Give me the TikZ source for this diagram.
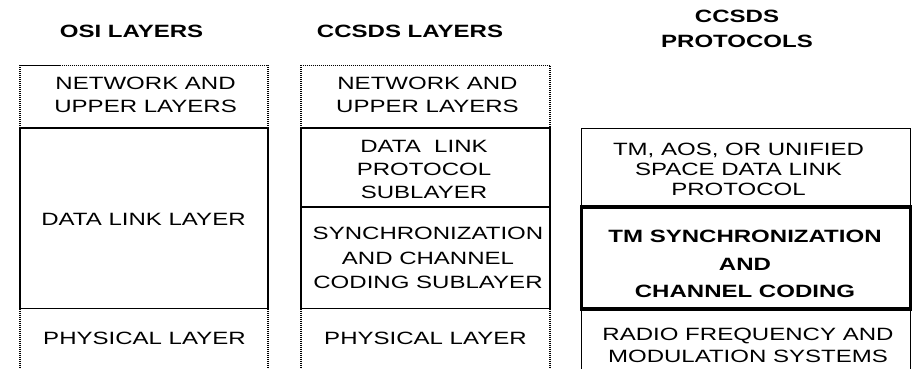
\documentclass[tikz,border=0pt]{standalone}
\usepackage{fontspec}
\setmainfont{Liberation Sans}[FakeStretch=1.35]
\begin{document}
\begin{tikzpicture}[x=1pt,y=-1pt,
  solidline/.style={draw=black,line width=1.6pt},
  thickline/.style={draw=black,line width=3.3pt},
  dotline/.style={draw=black,line width=1.6pt,dash pattern=on 1.1pt off 0.9pt},
  lbl/.style={inner sep=0pt,align=center,font=\fontsize{17.8}{23}\selectfont},
  hdr/.style={lbl,font=\fontsize{17.8}{25.5}\selectfont\bfseries}]
\useasboundingbox[fill=white] (0,0) rectangle (913,369);

% headers
\node[hdr] (hosi) at (131.5,31.5) {OSI LAYERS};
\node[hdr] (hccsds) at (410,31.5) {CCSDS LAYERS};
\node[hdr] (hprot) at (737,28.75) {CCSDS\\PROTOCOLS};

% column 1: OSI
\draw[dotline] (20,128) -- (20,65.5) -- (268,65.5) -- (268,128);
\draw[solidline] (20,128) rectangle (268,308.5);
\draw[dotline] (20,308.5) -- (20,369);
\draw[dotline] (268,308.5) -- (268,369);
\node[lbl] (osinet) at (145.6,94.5) {NETWORK AND\\UPPER LAYERS};
\node[lbl] (osidl) at (143.5,219) {DATA LINK LAYER};
\node[lbl] (osiphy) at (144.5,338.5) {PHYSICAL LAYER};

% column 2: CCSDS layers
\draw[dotline] (301,128) -- (301,65.5) -- (550,65.5) -- (550,128);
\draw[solidline] (301,128) rectangle (550,207);
\draw[solidline] (301,207) rectangle (550,308.5);
\draw[dotline] (301,308.5) -- (301,369);
\draw[dotline] (550,308.5) -- (550,369);
\node[lbl] (ccnet) at (427.5,94.5) {NETWORK AND\\UPPER LAYERS};
\node[lbl] (ccdl) at (424,169) {DATA\ \ LINK\\PROTOCOL\\SUBLAYER};
\node[lbl,font=\fontsize{17.8}{24.5}\selectfont] (ccsync) at (428,258) {SYNCHRONIZATION\\AND CHANNEL\\CODING SUBLAYER};
\node[lbl] (ccphy) at (425.5,338.5) {PHYSICAL LAYER};

% column 3: CCSDS protocols
\draw[solidline] (581.5,128.5) rectangle (910.5,207);
\draw[solidline] (581.5,309) -- (581.5,369);
\draw[solidline] (910.5,309) -- (910.5,369);
\draw[thickline] (581.5,207) rectangle (910.5,309);
\node[lbl,font=\fontsize{17.8}{20}\selectfont] (ptm) at (738.5,169.5) {TM, AOS, OR UNIFIED\\SPACE DATA LINK\\PROTOCOL};
\node[lbl,font=\fontsize{17.8}{27.5}\selectfont\bfseries] (psync) at (745,264) {TM SYNCHRONIZATION\\AND\\CHANNEL CODING};
\node[lbl,font=\fontsize{17.8}{22}\selectfont] (prf) at (748,345.5) {RADIO FREQUENCY AND\\MODULATION SYSTEMS};
\end{tikzpicture}
\end{document}
